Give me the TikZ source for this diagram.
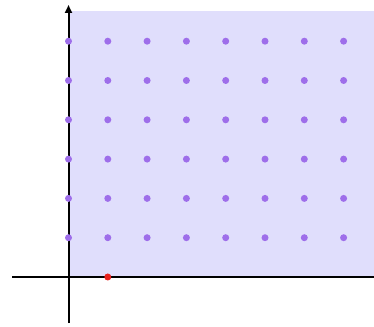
\documentclass[tikz,border=0pt]{standalone}
\usetikzlibrary{arrows.meta}
\definecolor{regionc}{HTML}{E0DEFC}
\definecolor{dotc}{HTML}{9E6EEA}
\definecolor{redc}{HTML}{E8211E}
\tikzset{
  axisline/.style={line width=2pt, black},
  gdot/.style={circle, fill=dotc, inner sep=0pt, minimum size=7pt},
  rdot/.style={circle, fill=redc, inner sep=0pt, minimum size=7pt}
}
\begin{document}
\begin{tikzpicture}[x=1pt,y=1pt]
\useasboundingbox (0,0) rectangle (374,326);
% shaded region
\fill[regionc] (68.5,49) rectangle (374,315);
% axes
\coordinate (xl) at (12,49);
\coordinate (xr) at (374,49);
\coordinate (yb) at (68.5,3);
\coordinate (yt) at (68.5,321);
\draw[axisline] (xl) -- (xr);
\draw[axisline, -{Stealth[length=8pt,width=7pt,inset=0pt]}] (yb) -- (yt);
% dots
\foreach \i in {0,...,7}{
  \foreach \j in {1,...,6}{
    \node[gdot] (d\i\j) at ({68.5+39.3*\i},{49+39.3*\j}) {};
  }
}
\node[rdot] (r) at (107.8,49) {};
\end{tikzpicture}
\end{document}
